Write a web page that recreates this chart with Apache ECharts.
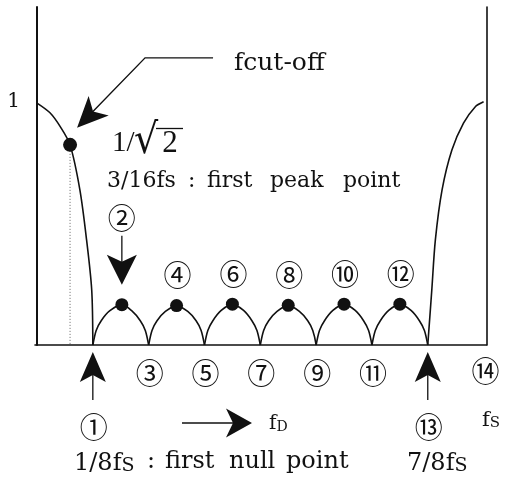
<!DOCTYPE html>
<html><head><meta charset="utf-8">
<script src="https://cdn.jsdelivr.net/npm/echarts@6/dist/echarts.min.js"></script>
<style>html,body{margin:0;padding:0;background:#fff}#c{width:511px;height:487px}</style>
</head><body><div id="c"></div>
<script>
// Magnitude response |H(f)| against normalised frequency f / fs
const mainLobeLeft = [[0,0.995],[0.029,0.955],[0.052,0.898],[0.074,0.823],[0.096,0.638],[0.111,0.432],[0.1225,0.226],[0.125,0]];
const mainLobeRight = [[0.875,0],[0.884,0.226],[0.892,0.432],[0.907,0.638],[0.929,0.802],[0.955,0.912],[0.981,0.979],[1.0,1.0]];

// Side lobes between consecutive nulls
const lobe1 = [[0.125,0],[0.1325,0.06],[0.14375,0.1],[0.1625,0.14],[0.19,0.166],[0.2125,0.14],[0.23125,0.1],[0.2425,0.06],[0.25,0]];
const lobe2 = [[0.25,0],[0.2575,0.06],[0.26875,0.1],[0.2875,0.138],[0.3125,0.162],[0.3375,0.138],[0.35625,0.1],[0.3675,0.06],[0.375,0]];
const lobe3 = [[0.375,0],[0.3825,0.06],[0.39375,0.1],[0.4125,0.142],[0.4375,0.168],[0.4625,0.142],[0.48125,0.1],[0.4925,0.06],[0.5,0]];
const lobe4 = [[0.5,0],[0.5075,0.06],[0.51875,0.1],[0.5375,0.138],[0.5625,0.163],[0.5875,0.138],[0.60625,0.1],[0.6175,0.06],[0.625,0]];
const lobe5 = [[0.625,0],[0.6325,0.06],[0.64375,0.1],[0.6625,0.142],[0.6875,0.168],[0.7125,0.142],[0.73125,0.1],[0.7425,0.06],[0.75,0]];
const lobe6 = [[0.75,0],[0.7575,0.06],[0.76875,0.1],[0.7875,0.142],[0.8125,0.168],[0.8375,0.142],[0.85625,0.1],[0.8675,0.06],[0.875,0]];

// Marked points
const cutoffPoint = [0.074, 0.823];
const peakPoints = [[0.19,0.166],[0.3125,0.162],[0.4375,0.168],[0.5625,0.163],[0.6875,0.168],[0.8125,0.168]];
const nullPoints = [0.125,0.25,0.375,0.5,0.625,0.75,0.875];
const fsPoint = 1.0;

// Point numbering
const peakLabels = ['②','④','⑥','⑧','⑩','⑫'];
const nullLabels = ['①','③','⑤','⑦','⑨','⑪','⑬'];
const fsLabel = '⑭';
const yTickLabels = ['1'];

const serif = '"DejaVu Serif", "Liberation Serif", serif';
const times = '"Liberation Serif", serif';
const circ = '"Noto Sans CJK JP", "DejaVu Sans", sans-serif';
const ink = '#111';

const chart = echarts.init(document.getElementById('c'), null, {renderer: 'canvas'});

const curveStyle = {color: ink, width: 1.6};
const curves = [mainLobeLeft, lobe1, lobe2, lobe3, lobe4, lobe5, lobe6, mainLobeRight].map(d => ({
  type: 'line', data: d, smooth: 0.3, showSymbol: false,
  lineStyle: curveStyle, silent: true, z: 3
}));

chart.setOption({
  animation: false,
  backgroundColor: '#fff',
  grid: {left: 35, right: 24.5, top: 7, bottom: 142},
  xAxis: {
    type: 'value', min: -0.0045, max: 1.0065,
    axisLine: {show: true, lineStyle: {color: ink, width: 1.6}},
    axisTick: {show: false}, axisLabel: {show: false}, splitLine: {show: false}
  },
  yAxis: [{
    type: 'value', min: 0, max: 1.39, interval: 1,
    axisLine: {show: true, lineStyle: {color: ink, width: 2}},
    axisTick: {show: false}, splitLine: {show: false},
    axisLabel: {
      margin: 15, fontFamily: serif, fontSize: 20, color: ink,
      formatter: v => (v === 1 ? yTickLabels[0] : '')
    }
  }, {
    type: 'value', min: 0, max: 1.39, position: 'right',
    axisLine: {show: true, lineStyle: {color: ink, width: 1.6}},
    axisTick: {show: false}, axisLabel: {show: false}, splitLine: {show: false}
  }],
  series: curves.concat([
    {
      type: 'line', data: [[cutoffPoint[0], cutoffPoint[1]], [cutoffPoint[0], 0]],
      showSymbol: false, lineStyle: {color: '#666', width: 1, type: [1, 2]}, z: 2
    },
    {
      type: 'scatter', data: [cutoffPoint], symbolSize: 14,
      itemStyle: {color: ink, opacity: 1}, z: 5
    },
    {
      type: 'scatter', data: peakPoints, symbolSize: 13,
      itemStyle: {color: ink, opacity: 1}, z: 5
    }
  ])
});

const px = p => chart.convertToPixel({xAxisIndex: 0, yAxisIndex: 0}, p);

// Filled arrow head with a notched back, pointing along `angle`
function head(tip, angle, len, half, notch) {
  const ux = Math.cos(angle), uy = Math.sin(angle);
  const nx = -uy, ny = ux;
  const bx = tip[0] - ux * len, by = tip[1] - uy * len;
  return {
    type: 'polygon', z: 10,
    shape: {points: [
      tip,
      [bx + nx * half, by + ny * half],
      [tip[0] - ux * (len - notch), tip[1] - uy * (len - notch)],
      [bx - nx * half, by - ny * half]
    ]},
    style: {fill: ink}
  };
}
function seg(pts, w) {
  return {type: 'polyline', z: 10, shape: {points: pts}, style: {stroke: ink, lineWidth: w || 1.3, fill: null}};
}
function label(text, x, y, font, size, align, rich, extra) {
  return Object.assign({
    type: 'text', z: 10, x: x, y: y,
    style: {text: text, font: size + 'px ' + font, fill: ink, align: align || 'center', verticalAlign: 'middle', rich: rich}
  }, extra || {});
}
// Frequency symbol with a small capital subscript letter, e.g. fS
function fsym(main, small, x, baseline, size, smallSize) {
  return {
    type: 'text', z: 10, x: x, y: baseline,
    style: {
      text: '{n|' + main + '}{s|' + small + '}', fill: ink, align: 'left', verticalAlign: 'bottom',
      rich: {
        n: {fontFamily: serif, fontSize: size, color: ink, verticalAlign: 'bottom', lineHeight: size * 1.2},
        s: {fontFamily: serif, fontSize: smallSize, color: ink, verticalAlign: 'bottom', lineHeight: size * 1.2}
      }
    }
  };
}

const g = [];

// Cut-off annotation: leader line and arrow onto the marked point
const c = px(cutoffPoint);
const tip = [c[0] + 7, c[1] - 17];
const corner = [c[0] + 75, c[1] - 87];
const ang = Math.atan2(tip[1] - corner[1], tip[0] - corner[0]);
g.push(seg([[c[0] + 143, corner[1]], corner, [tip[0] - Math.cos(ang) * 20, tip[1] - Math.sin(ang) * 20]], 1.4));
g.push(head(tip, ang, 31, 14, 8));
g.push(label('fcut-off', 234, 63, serif, 25, 'left'));

// 1/√2 label with the radical's bar over the 2
g.push(label('1/', 112, 143, times, 29, 'left'));
g.push(label('√', 146, 142, serif, 20, 'center', null, {scaleX: 1.9, scaleY: 2.1}));
g.push(label('2', 170, 144, times, 31, 'center'));
g.push(seg([[156, 128.5], [183, 128.5]], 1.3));

// First peak caption, word by word
[['3/16fs', 107], [':', 188], ['first', 207], ['peak', 270], ['point', 343]].forEach(w => {
  g.push(label(w[0], w[1], 181, serif, 22, 'left'));
});

// Peak numbering and the arrow onto the first peak
peakPoints.forEach((p, i) => {
  const q = px(p);
  if (i === 0) {
    g.push(label(peakLabels[i], q[0], q[1] - 86, circ, 28));
    g.push(seg([[q[0], q[1] - 69], [q[0], q[1] - 40]], 1.3));
    g.push(head([q[0], q[1] - 20], Math.PI / 2, 30, 15, 7));
  } else {
    g.push(label(peakLabels[i], q[0] + 1, q[1] - 30, circ, 28));
  }
});

// Null numbering; first and last nulls get upward arrows
nullPoints.forEach((f, i) => {
  const q = px([f, 0]);
  if (i === 0 || i === nullPoints.length - 1) {
    g.push(head([q[0], q[1] + 7], -Math.PI / 2, 30, 13, 7));
    g.push(seg([[q[0], q[1] + 30], [q[0], q[1] + 55]], 1.3));
    g.push(label(nullLabels[i], q[0] + 1, q[1] + 82, circ, 28));
  } else {
    g.push(label(nullLabels[i], q[0] + 1, q[1] + 28, circ, 28));
  }
});
const fsq = px([fsPoint, 0]);
g.push(label(fsLabel, fsq[0] + 2, fsq[1] + 26, circ, 28));

// Frequency direction arrow and axis names
g.push(seg([[182, 423], [234, 423]], 1.4));
g.push(head([252, 423], 0, 26, 14.5, 7));
g.push(fsym('f', 'D', 269, 434, 20, 14));
g.push(fsym('f', 'S', 482, 431, 21, 15));

// Null captions along the bottom
g.push(fsym('1/8f', 'S', 74, 476, 24, 19));
[[':', 147], ['first', 165], ['null', 229], ['point', 286]].forEach(w => {
  g.push(label(w[0], w[1], 462, serif, 24, 'left'));
});
g.push(fsym('7/8f', 'S', 407, 476, 24, 19));

chart.setOption({graphic: {elements: g}});
</script>
</body></html>
